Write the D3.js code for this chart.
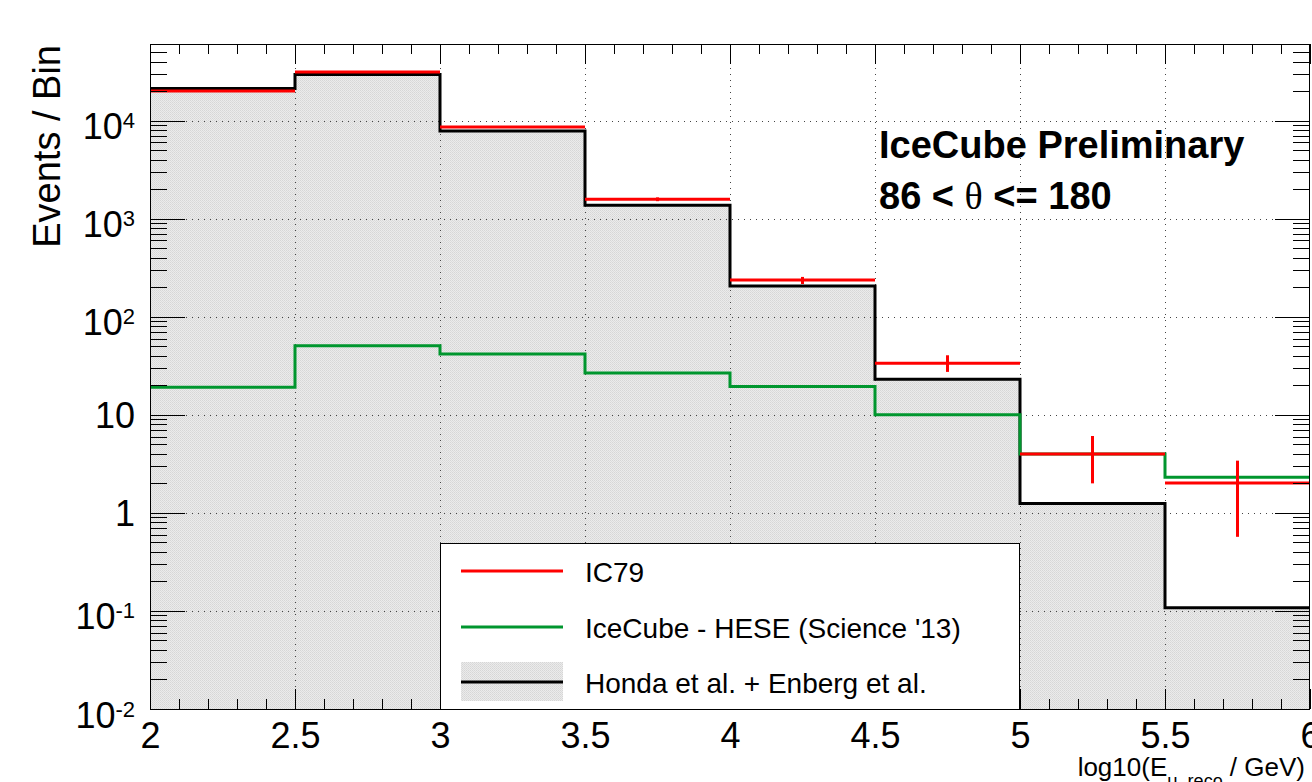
<!DOCTYPE html>
<html>
<head>
<meta charset="utf-8">
<script src="https://cdn.jsdelivr.net/npm/d3@7"></script>
<style>
  html, body { margin: 0; padding: 0; background: #fff; }
  svg { display: block; }
  text { font-family: "Liberation Sans", Arial, Helvetica, sans-serif; }
</style>
</head>
<body>
<svg id="chart" width="1312" height="782"></svg>
<script>
// ---- data ----
const binEdges = [2, 2.5, 3, 3.5, 4, 4.5, 5, 5.5, 6];
const hondaEnberg = [21300, 29600, 7850, 1372, 206, 23.1, 1.25, 0.108];
const heseScience13 = [19.1, 50.7, 41.8, 26.7, 19.5, 10.0, 3.99, 2.31];
const ic79 = [20100, 31400, 8630, 1577, 237, 33.6, 3.99, 2.02];
const ic79Low = [19950, 31250, 8520, 1510, 216, 27.4, 2.0, 0.57];
const ic79High = [20250, 31550, 8740, 1650, 255, 40.5, 6.08, 3.41];
const xMajorTicks = [2, 2.5, 3, 3.5, 4, 4.5, 5, 5.5, 6];
const xTickLabels = ["2", "2.5", "3", "3.5", "4", "4.5", "5", "5.5", "6"];
const yMajorTicks = [0.01, 0.1, 1, 10, 100, 1000, 10000];
const legendLabels = ["IC79", "IceCube - HESE (Science '13)", "Honda et al. + Enberg et al."];

// ---- layout ----
const L = 150, R = 1310, T = 44, B = 709;
const svg = d3.select("#chart");
const x = d3.scaleLinear().domain([2, 6]).range([L, R]);
const y = d3.scaleLog().domain([0.01, 60500]).range([B, T]);

const defs = svg.append("defs");
const pat = defs.append("pattern").attr("id", "hatch")
  .attr("patternUnits", "userSpaceOnUse").attr("width", 2).attr("height", 2);
pat.append("rect").attr("width", 2).attr("height", 2).attr("fill", "#ebebeb");
pat.append("rect").attr("x", 0).attr("y", 0).attr("width", 1).attr("height", 1).attr("fill", "#d6d6d6");
pat.append("rect").attr("x", 1).attr("y", 1).attr("width", 1).attr("height", 1).attr("fill", "#dcdcdc");
defs.append("clipPath").attr("id", "plotclip").append("rect")
  .attr("x", L).attr("y", T).attr("width", R - L).attr("height", B - T);

const plot = svg.append("g").attr("clip-path", "url(#plotclip)");

function stepPath(vals) {
  let p = d3.path();
  p.moveTo(x(binEdges[0]), y(vals[0]));
  vals.forEach((v, i) => {
    if (i > 0) p.lineTo(x(binEdges[i]), y(v));
    p.lineTo(x(binEdges[i + 1]), y(v));
  });
  return p.toString();
}
// filled Honda + Enberg
const fillP = d3.path();
fillP.moveTo(x(2), B);
hondaEnberg.forEach((v, i) => { fillP.lineTo(x(binEdges[i]), y(v)); fillP.lineTo(x(binEdges[i + 1]), y(v)); });
fillP.lineTo(x(6), B);
fillP.closePath();
plot.append("path").attr("d", fillP.toString()).attr("fill", "url(#hatch)");

// grid
const gridG = plot.append("g").attr("stroke", "#444").attr("stroke-width", 1).attr("stroke-dasharray", "1,5");
xMajorTicks.slice(1, -1).forEach(v => {
  gridG.append("line").attr("x1", Math.round(x(v)) + 0.5).attr("x2", Math.round(x(v)) + 0.5).attr("y1", T).attr("y2", B);
});
yMajorTicks.slice(1).forEach(v => {
  gridG.append("line").attr("y1", Math.round(y(v)) + 0.5).attr("y2", Math.round(y(v)) + 0.5).attr("x1", L).attr("x2", R);
});

// black outline
plot.append("path").attr("d", stepPath(hondaEnberg)).attr("fill", "none")
  .attr("stroke", "#000").attr("stroke-width", 3);
// green HESE
plot.append("path").attr("d", stepPath(heseScience13)).attr("fill", "none")
  .attr("stroke", "#00962e").attr("stroke-width", 3);
// red IC79 segments + error bars
const redG = plot.append("g").attr("stroke", "#ff0000").attr("stroke-width", 3);
ic79.forEach((v, i) => {
  redG.append("line").attr("x1", x(binEdges[i])).attr("x2", x(binEdges[i + 1]))
    .attr("y1", y(v)).attr("y2", y(v));
  const xc = x((binEdges[i] + binEdges[i + 1]) / 2);
  redG.append("line").attr("x1", xc).attr("x2", xc)
    .attr("y1", y(ic79Low[i])).attr("y2", y(ic79High[i]));
});

// ---- axes ----
function minorY() {
  const out = [];
  for (let e = -2; e < 5; e++) for (let m = 2; m <= 9; m++) {
    const v = m * Math.pow(10, e);
    if (v < 60500) out.push(v);
  }
  return out;
}
function minorX() {
  const out = [];
  for (let i = 20; i <= 60; i++) if (i % 5 !== 0) out.push(i / 10);
  return out;
}
const axG = svg.append("g").attr("shape-rendering", "crispEdges");
const yAxL = axG.append("g").attr("transform", `translate(${L},0)`)
  .call(d3.axisLeft(y).tickValues(yMajorTicks).tickSizeInner(-35).tickSizeOuter(0).tickPadding(15).tickFormat(() => ""));
axG.append("g").attr("transform", `translate(${L},0)`)
  .call(d3.axisLeft(y).tickValues(minorY()).tickSizeInner(-17).tickSizeOuter(0).tickFormat(() => ""));
axG.append("g").attr("transform", `translate(${R},0)`)
  .call(d3.axisRight(y).tickValues(yMajorTicks).tickSizeInner(-35).tickSizeOuter(0).tickFormat(() => ""));
axG.append("g").attr("transform", `translate(${R},0)`)
  .call(d3.axisRight(y).tickValues(minorY()).tickSizeInner(-17).tickSizeOuter(0).tickFormat(() => ""));
const xAxB = axG.append("g").attr("transform", `translate(0,${B})`)
  .call(d3.axisBottom(x).tickValues(xMajorTicks).tickSizeInner(-20).tickSizeOuter(0).tickPadding(13)
    .tickFormat((d, i) => xTickLabels[i]));
axG.append("g").attr("transform", `translate(0,${B})`)
  .call(d3.axisBottom(x).tickValues(minorX()).tickSizeInner(-10).tickSizeOuter(0).tickFormat(() => ""));
axG.append("g").attr("transform", `translate(0,${T})`)
  .call(d3.axisTop(x).tickValues(xMajorTicks).tickSizeInner(-20).tickSizeOuter(0).tickFormat(() => ""));
axG.append("g").attr("transform", `translate(0,${T})`)
  .call(d3.axisTop(x).tickValues(minorX()).tickSizeInner(-10).tickSizeOuter(0).tickFormat(() => ""));

axG.selectAll(".domain").remove();
axG.selectAll(".tick line").attr("stroke", "#000");

xAxB.selectAll("text").attr("font-size", 36).attr("fill", "#000")
  .style("font-family", '"Liberation Sans", Arial, sans-serif');

yAxL.selectAll(".tick text").each(function (d) {
  const t = d3.select(this);
  t.text(null).attr("font-size", 36).attr("fill", "#000")
    .style("font-family", '"Liberation Sans", Arial, sans-serif');
  const e = Math.round(Math.log10(d));
  if (e === 0 || e === 1) {
    t.attr("dy", "13px").text(e === 0 ? "1" : "10");
  } else {
    t.attr("dy", "18px");
    t.append("tspan").text("10");
    t.append("tspan").attr("font-size", 22).attr("dy", "-11px").text(String(e));
  }
});

// frame
svg.append("rect").attr("x", L + 0.5).attr("y", T + 0.5).attr("width", R - L - 1).attr("height", B - T)
  .attr("fill", "none").attr("stroke", "#000").attr("stroke-width", 1).attr("shape-rendering", "crispEdges");

// ---- legend ----
const lg = svg.append("g");
lg.append("rect").attr("x", 440.5).attr("y", 543.5).attr("width", 579).attr("height", 166)
  .attr("fill", "#fff").attr("stroke", "#000").attr("stroke-width", 1).attr("shape-rendering", "crispEdges");
const rowY = [571, 627, 682];
lg.append("line").attr("x1", 461).attr("x2", 563).attr("y1", rowY[0]).attr("y2", rowY[0])
  .attr("stroke", "#ff0000").attr("stroke-width", 3);
lg.append("line").attr("x1", 461).attr("x2", 563).attr("y1", rowY[1]).attr("y2", rowY[1])
  .attr("stroke", "#00962e").attr("stroke-width", 3);
lg.append("rect").attr("x", 461).attr("y", 662).attr("width", 102).attr("height", 39).attr("fill", "url(#hatch)");
lg.append("line").attr("x1", 461).attr("x2", 563).attr("y1", rowY[2]).attr("y2", rowY[2])
  .attr("stroke", "#000").attr("stroke-width", 3);
legendLabels.forEach((s, i) => {
  lg.append("text").attr("x", 585).attr("y", rowY[i] + 11).attr("font-size", 28).attr("fill", "#000").text(s);
});

// ---- annotation ----
svg.append("text").attr("x", 879).attr("y", 158).attr("font-size", 38).attr("font-weight", "bold")
  .text("IceCube Preliminary");
const t2 = svg.append("text").attr("x", 879).attr("y", 209).attr("font-size", 38).attr("font-weight", "bold");
t2.append("tspan").text("86 < ");
t2.append("tspan").style("font-family", '"Liberation Serif", "Times New Roman", serif').attr("font-weight", "normal").text("θ");
t2.append("tspan").text(" <= 180");

// ---- axis titles ----
svg.append("text").attr("transform", `translate(60,${T + 1}) rotate(-90)`).attr("text-anchor", "end")
  .attr("font-size", 38).attr("fill", "#000").text("Events / Bin");
const xt = svg.append("text").attr("x", 1305).attr("y", 776).attr("text-anchor", "end").attr("font-size", 26).attr("fill", "#000");
xt.append("tspan").text("log10(E");
xt.append("tspan").attr("font-size", 18).attr("dy", "11px").text("μ, reco");
xt.append("tspan").attr("dy", "-11px").text(" / GeV)");
</script>
</body>
</html>
